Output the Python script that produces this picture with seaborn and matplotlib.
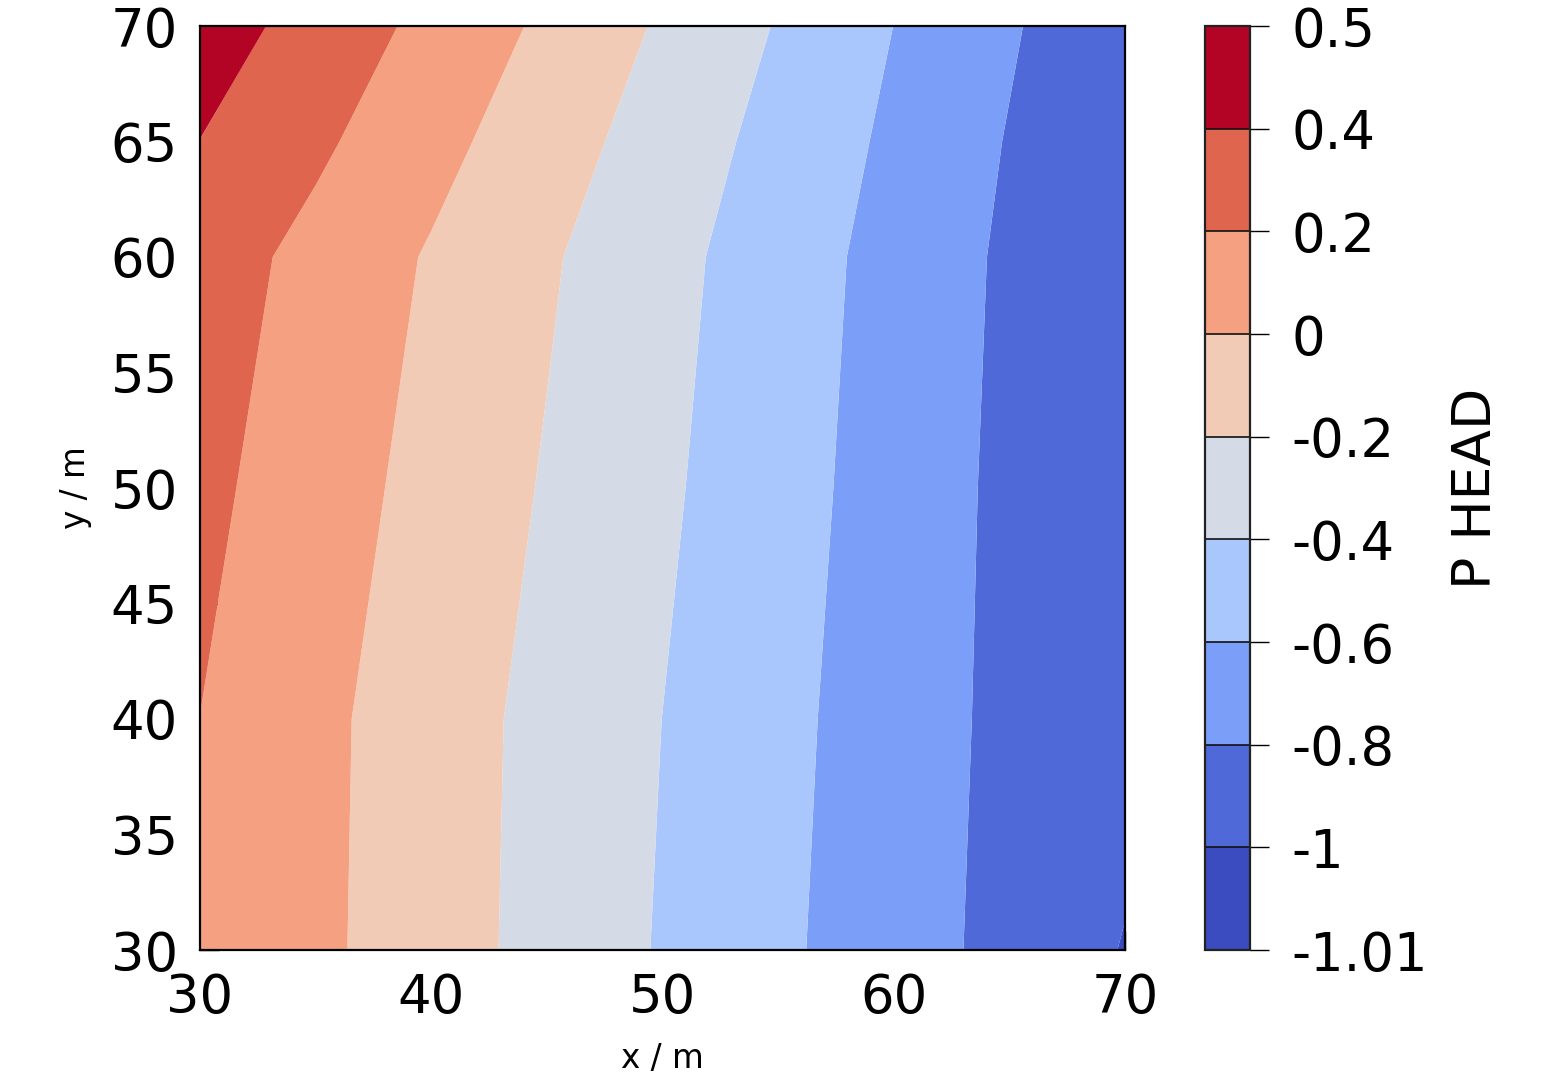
import numpy as np
import matplotlib
matplotlib.use("Agg")
import matplotlib.pyplot as plt
import seaborn as sns

# ---- data ----
x_nodes = [30, 35, 40, 45, 50, 55, 60, 65, 70]
y_nodes = [30, 40, 50, 60, 65, 70]

p_head_y30 = [0.190, 0.042, -0.111, -0.264, -0.416, -0.564, -0.712, -0.858, -1.010]
p_head_y40 = [0.199, 0.048, -0.106, -0.256, -0.401, -0.549, -0.698, -0.849, -0.930]
p_head_y50 = [0.249, 0.093, -0.062, -0.216, -0.369, -0.524, -0.683, -0.844, -0.995]
p_head_y60 = [0.300, 0.141, -0.018, -0.177, -0.339, -0.502, -0.667, -0.832, -0.997]
p_head_y65 = [0.398, 0.236, 0.062, -0.112, -0.287, -0.464, -0.636, -0.811, -0.987]
p_head_y70 = [0.500, 0.324, 0.149, -0.036, -0.224, -0.412, -0.601, -0.779, -0.957]

levels = [-1.01, -1.0, -0.8, -0.6, -0.4, -0.2, 0.0, 0.2, 0.4, 0.5]
level_labels = ["-1.01", "-1", "-0.8", "-0.6", "-0.4", "-0.2", "0", "0.2", "0.4", "0.5"]
x_ticks = [30, 40, 50, 60, 70]
y_ticks = [30, 35, 40, 45, 50, 55, 60, 65, 70]

# ---- style ----
sns.set_theme(style="ticks")
plt.rcParams['font.family'] = ['DejaVu Sans']

fig = plt.figure(figsize=(15.6, 10.8), dpi=100)
ax = fig.add_axes([200 / 1560, 130 / 1080, 925 / 1560, 924 / 1080])
cax = fig.add_axes([1205 / 1560, 130 / 1080, 45 / 1560, 924 / 1080])

Z = np.array([p_head_y30, p_head_y40, p_head_y50, p_head_y60, p_head_y65, p_head_y70])
cmap = sns.color_palette("coolwarm", as_cmap=True).resampled(16)
cs = ax.contourf(x_nodes, y_nodes, Z, levels=levels, cmap=cmap,
                 vmin=levels[0], vmax=levels[-1], antialiased=True)

ax.set_xlim(30, 70)
ax.set_ylim(30, 70)
ax.set_xticks(x_ticks)
ax.set_yticks(y_ticks)
ax.set_xticklabels([str(v) for v in x_ticks])
ax.set_yticklabels([str(v) for v in y_ticks])
ax.tick_params(axis='both', direction='in', length=14, width=1, colors='black',
               labelsize=38, top=False, right=False, bottom=True, left=True)
ax.tick_params(axis='x', pad=16)
ax.tick_params(axis='y', pad=16)
for sp in ax.spines.values():
    sp.set_visible(True)
    sp.set_color('black')
    sp.set_linewidth(1.6)
ax.set_xlabel("x / m", fontsize=23.5, labelpad=13, color='black')
ax.set_ylabel("y / m", fontsize=23.5, labelpad=13, color='black')

cb = fig.colorbar(cs, cax=cax, drawedges=True)
cb.set_ticks(levels)
cb.set_ticklabels(level_labels)
cb.outline.set_edgecolor('#222222')
cb.outline.set_linewidth(1.6)
cb.dividers.set_color('#111111')
cb.dividers.set_linewidth(1.2)
cax.tick_params(axis='y', direction='out', length=14, width=1, colors='black',
                labelsize=38, pad=16, right=True, left=False)
cb.set_label("P HEAD", fontsize=38.5, labelpad=16, color='black')

fig.savefig("out.png", dpi=100)
